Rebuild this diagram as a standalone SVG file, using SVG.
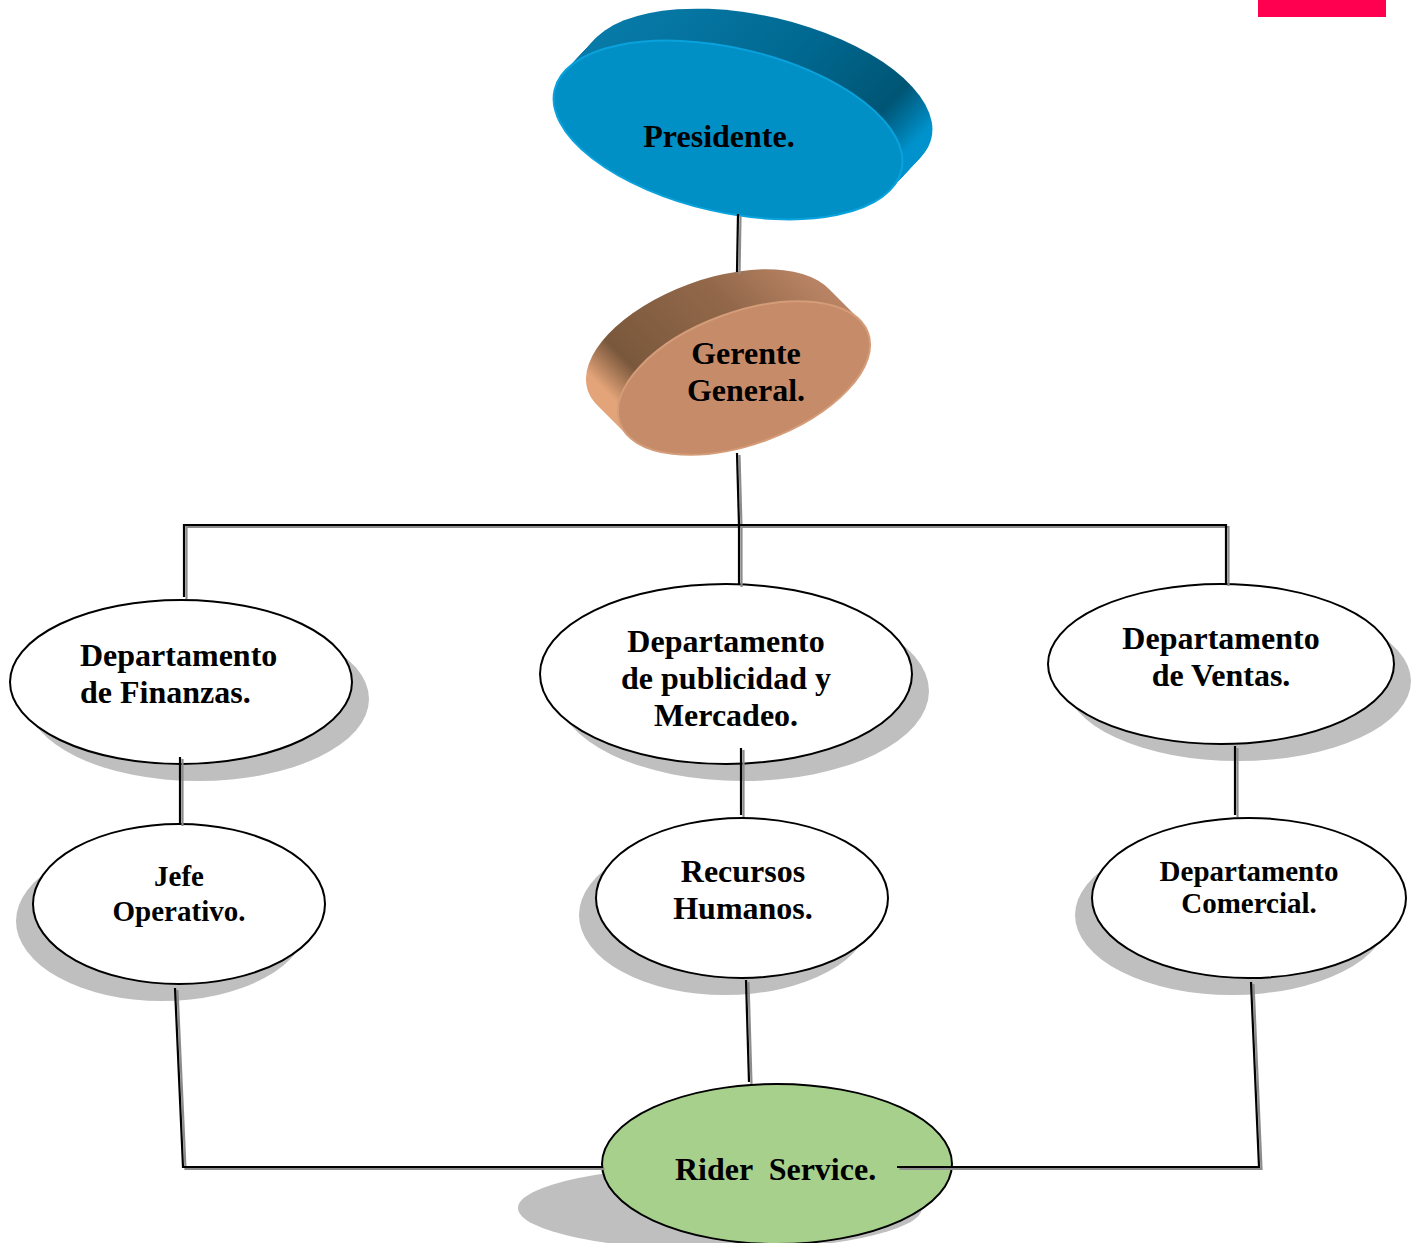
<svg xmlns="http://www.w3.org/2000/svg" xmlns:xlink="http://www.w3.org/1999/xlink" width="1413" height="1243" viewBox="0 0 1413 1243">
<style>
.t{font-family:"Liberation Serif","Times New Roman",serif;font-weight:bold;font-size:32px;fill:#000}
.s{font-size:29px}
.node{fill:#fff;stroke:#000;stroke-width:2}
.shadow{fill:#bfbfbf}
.wire{fill:none;stroke-width:2.2}
</style>
<defs>
<linearGradient id="presSide" x1="0" y1="0" x2="1" y2="0.4">
<stop offset="0" stop-color="#0a80b0"/>
<stop offset="0.55" stop-color="#006890"/>
<stop offset="0.85" stop-color="#005574"/>
<stop offset="1" stop-color="#0092cc"/>
</linearGradient>
<linearGradient id="gerSide" x1="0" y1="0.3" x2="1" y2="0">
<stop offset="0" stop-color="#e4a47a"/>
<stop offset="0.15" stop-color="#7a583c"/>
<stop offset="0.6" stop-color="#93684a"/>
<stop offset="1" stop-color="#c99070"/>
</linearGradient>
<ellipse id="presE" cx="0" cy="0" rx="178" ry="82"/>
<ellipse id="gerE" cx="0" cy="0" rx="132" ry="66"/>
<g id="wires">
<path d="M738,214 L737,272"/>
<path d="M737,453 L739,525"/>
<path d="M184,597 L184,525 L1226,525 L1226,584"/>
<path d="M739,525 L739,585"/>
<path d="M180,757 L180,824"/>
<path d="M741,748 L741,815"/>
<path d="M1235,746 L1235,815"/>
<path d="M175,988 L183,1167 L602,1167"/>
<path d="M746,980 L749,1082"/>
<path d="M1251,982 L1259,1167 L897,1167"/>
</g>
</defs>
<rect x="1258" y="0" width="128" height="17" fill="#ff0050"/>

<g id="presidente">
<g fill="url(#presSide)">
<use xlink:href="#presE" transform="translate(758,98) rotate(13)"/>
<use xlink:href="#presE" transform="translate(756,100.1) rotate(13)"/>
<use xlink:href="#presE" transform="translate(754,102.3) rotate(13)"/>
<use xlink:href="#presE" transform="translate(752,104.4) rotate(13)"/>
<use xlink:href="#presE" transform="translate(750,106.5) rotate(13)"/>
<use xlink:href="#presE" transform="translate(748,108.7) rotate(13)"/>
<use xlink:href="#presE" transform="translate(746,110.8) rotate(13)"/>
<use xlink:href="#presE" transform="translate(744,112.9) rotate(13)"/>
<use xlink:href="#presE" transform="translate(742,115.1) rotate(13)"/>
<use xlink:href="#presE" transform="translate(740,117.2) rotate(13)"/>
<use xlink:href="#presE" transform="translate(738,119.3) rotate(13)"/>
<use xlink:href="#presE" transform="translate(736,121.5) rotate(13)"/>
<use xlink:href="#presE" transform="translate(734,123.6) rotate(13)"/>
<use xlink:href="#presE" transform="translate(732,125.7) rotate(13)"/>
<use xlink:href="#presE" transform="translate(730,127.9) rotate(13)"/>
</g>
<use xlink:href="#presE" transform="translate(728,130) rotate(13)" fill="#0090c6" stroke="#0aa2dc" stroke-width="2"/>
<text class="t" x="719" y="147" text-anchor="middle">Presidente.</text>
</g>

<g id="gerente">
<g fill="url(#gerSide)">
<use xlink:href="#gerE" transform="translate(712,346) rotate(-20)"/>
<use xlink:href="#gerE" transform="translate(714,348) rotate(-20)"/>
<use xlink:href="#gerE" transform="translate(716,350) rotate(-20)"/>
<use xlink:href="#gerE" transform="translate(718,352) rotate(-20)"/>
<use xlink:href="#gerE" transform="translate(720,354) rotate(-20)"/>
<use xlink:href="#gerE" transform="translate(722,356) rotate(-20)"/>
<use xlink:href="#gerE" transform="translate(724,358) rotate(-20)"/>
<use xlink:href="#gerE" transform="translate(726,360) rotate(-20)"/>
<use xlink:href="#gerE" transform="translate(728,362) rotate(-20)"/>
<use xlink:href="#gerE" transform="translate(730,364) rotate(-20)"/>
<use xlink:href="#gerE" transform="translate(732,366) rotate(-20)"/>
<use xlink:href="#gerE" transform="translate(734,368) rotate(-20)"/>
<use xlink:href="#gerE" transform="translate(736,370) rotate(-20)"/>
<use xlink:href="#gerE" transform="translate(738,372) rotate(-20)"/>
<use xlink:href="#gerE" transform="translate(740,374) rotate(-20)"/>
<use xlink:href="#gerE" transform="translate(742,376) rotate(-20)"/>
</g>
<use xlink:href="#gerE" transform="translate(744,378) rotate(-20)" fill="#c68c6a" stroke="#d49c78" stroke-width="2"/>
<text class="t" x="746" y="364" text-anchor="middle">Gerente</text>
<text class="t" x="746" y="401" text-anchor="middle">General.</text>
</g>

<g id="finanzas">
<ellipse class="shadow" cx="198" cy="699" rx="171" ry="82"/>
<ellipse class="node" cx="181" cy="682" rx="171" ry="82"/>
<text class="t" x="80" y="666">Departamento</text>
<text class="t" x="80" y="703">de Finanzas.</text>
</g>

<g id="publicidad">
<ellipse class="shadow" cx="743" cy="691" rx="186" ry="90"/>
<ellipse class="node" cx="726" cy="674" rx="186" ry="90"/>
<text class="t" x="726" y="652" text-anchor="middle">Departamento</text>
<text class="t" x="726" y="689" text-anchor="middle">de publicidad y</text>
<text class="t" x="726" y="726" text-anchor="middle">Mercadeo.</text>
</g>

<g id="ventas">
<ellipse class="shadow" cx="1238" cy="681" rx="173" ry="80"/>
<ellipse class="node" cx="1221" cy="664" rx="173" ry="80"/>
<text class="t" x="1221" y="649" text-anchor="middle">Departamento</text>
<text class="t" x="1221" y="686" text-anchor="middle">de Ventas.</text>
</g>

<g id="jefe">
<ellipse class="shadow" cx="162" cy="921" rx="146" ry="80"/>
<ellipse class="node" cx="179" cy="904" rx="146" ry="80"/>
<text class="t s" x="179" y="886" text-anchor="middle">Jefe</text>
<text class="t s" x="179" y="921" text-anchor="middle">Operativo.</text>
</g>

<g id="recursos">
<ellipse class="shadow" cx="725" cy="915" rx="146" ry="80"/>
<ellipse class="node" cx="742" cy="898" rx="146" ry="80"/>
<text class="t" x="743" y="882" text-anchor="middle">Recursos</text>
<text class="t" x="743" y="919" text-anchor="middle">Humanos.</text>
</g>

<g id="comercial">
<ellipse class="shadow" cx="1232" cy="915" rx="157" ry="80"/>
<ellipse class="node" cx="1249" cy="898" rx="157" ry="80"/>
<text class="t s" x="1249" y="881" text-anchor="middle">Departamento</text>
<text class="t s" x="1249" y="913" text-anchor="middle">Comercial.</text>
</g>

<g id="rider">
<ellipse class="shadow" cx="720" cy="1208" rx="202" ry="42"/>
<ellipse cx="777" cy="1164" rx="175" ry="80" fill="#a8d08d" stroke="#000" stroke-width="2"/>
<text class="t" x="675" y="1180" xml:space="preserve">Rider  Service.</text>
</g>

<g id="connectors">
<use xlink:href="#wires" class="wire" stroke="#8c8c8c" transform="translate(2.5,2)"/>
<use xlink:href="#wires" class="wire" stroke="#000"/>
</g>
</svg>
